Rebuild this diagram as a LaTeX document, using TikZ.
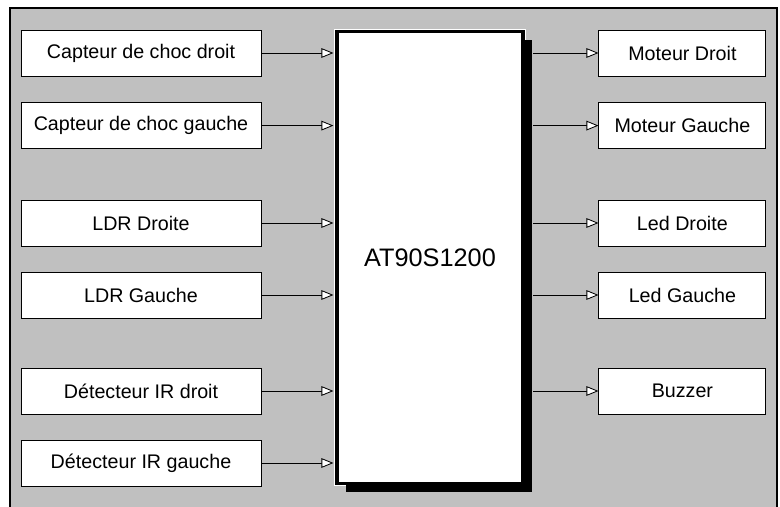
\documentclass[tikz,border=0pt]{standalone}
\usepackage{fontspec}
\setmainfont{Liberation Sans}
\usetikzlibrary{positioning, arrows.meta, shadows}

\definecolor{fond}{RGB}{192,192,192}

\begin{document}
\begin{tikzpicture}[
  block/.style={
    draw=black,
    fill=white,
    line width=0.6pt,
    minimum width=6cm,
    minimum height=1.15cm,
    align=center,
    font=\fontsize{14}{16}\selectfont
  },
  outblock/.style={
    block,
    minimum width=4.175cm
  },
  mcu/.style={
    draw=black,
    fill=white,
    line width=2.2pt,
    preaction={draw=white, line width=3.8pt},
    minimum width=4.65cm,
    minimum height=11.3cm,
    font=\fontsize{18}{20}\selectfont,
    drop shadow={shadow xshift=0.22cm, shadow yshift=-0.22cm, fill=black, opacity=1}
  },
  arrow/.style={
    -{Triangle[open, fill=white, length=3mm, width=2.4mm]},
    line width=0.6pt
  }
]

\useasboundingbox (0,0) rectangle (19.5,-12.675);
\fill[fond] (0.25,-0.2) rectangle (19.425,-13);
\draw[line width=1.2pt] (0.25,-13) -- (0.25,-0.2) -- (19.425,-0.2) -- (19.425,-13);

\node[mcu] (mcu) at (10.75,-6.44) {AT90S1200};

% entrees
\node[block] (chocd) at (3.525,-1.325)  {Capteur de choc droit};
\node[block] (chocg) at (3.525,-3.14)   {Capteur de choc gauche};
\node[block] (ldrd)  at (3.525,-5.575)  {LDR Droite};
\node[block] (ldrg)  at (3.525,-7.375)  {LDR Gauche};
\node[block] (ird)   at (3.525,-9.775)  {Détecteur IR droit};
\node[block] (irg)   at (3.525,-11.575) {Détecteur IR gauche};

% sorties
\node[outblock] (motd) at (17.06,-1.325) {Moteur Droit};
\node[outblock] (motg) at (17.06,-3.14)  {Moteur Gauche};
\node[outblock] (ledd) at (17.06,-5.575) {Led Droite};
\node[outblock] (ledg) at (17.06,-7.375) {Led Gauche};
\node[outblock] (buz)  at (17.06,-9.775) {Buzzer};

\foreach \n in {chocd, chocg, ldrd, ldrg, ird, irg}
  \draw[arrow] (\n.east) -- ([xshift=-0.05cm] \n.east -| mcu.west);

\foreach \n in {motd, motg, ledd, ledg, buz}
  \draw[arrow] ([xshift=0.22cm] \n.west -| mcu.east) -- (\n.west);

\end{tikzpicture}
\end{document}
